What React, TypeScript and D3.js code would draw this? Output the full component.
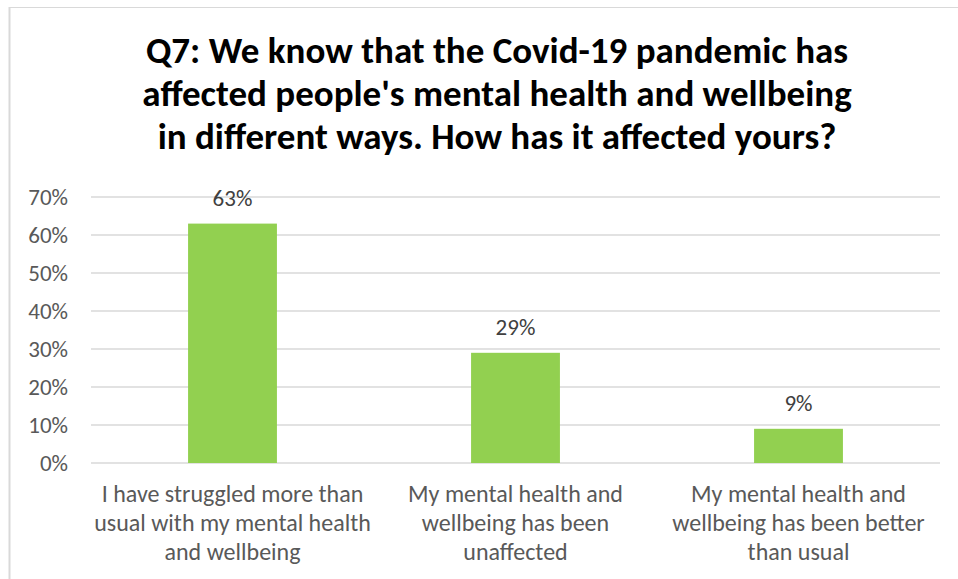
import React from "react";
import * as d3 from "d3";

const categories: string[][] = [
  ["I have struggled more than", "usual with my mental health", "and wellbeing"],
  ["My mental health and", "wellbeing has been", "unaffected"],
  ["My mental health and", "wellbeing has been better", "than usual"],
];
const values: number[] = [0.63, 0.29, 0.09];
const valueLabels: string[] = ["63%", "29%", "9%"];
const yTicks: number[] = [0, 0.1, 0.2, 0.3, 0.4, 0.5, 0.6, 0.7];
const titleLines: string[] = [
  "Q7: We know that the Covid-19 pandemic has",
  "affected people's mental health and wellbeing",
  "in different ways. How has it affected yours?",
];

const W = 958;
const H = 579;
const FONT = "Carlito, Calibri, Lato, 'Open Sans', sans-serif";

export default function App() {
  const left = 91, right = 940, top = 197, bottom = 463;
  const x = d3.scaleBand<number>().domain(values.map((_, i) => i)).range([left, right]).paddingInner(0.686).paddingOuter(0.343);
  const y = d3.scaleLinear().domain([0, 0.7]).range([bottom, top]);
  return (
    <svg width={W} height={H} style={{ position: "absolute", left: 0, top: 0, background: "#fff" }}>
      <line x1={9} x2={W} y1={7.5} y2={7.5} stroke="#d9d9d9" strokeWidth={1} />
      <line x1={9.5} x2={9.5} y1={7} y2={H} stroke="#d9d9d9" strokeWidth={2} />
      {titleLines.map((t, i) => (
        <text key={i} x={497} y={63 + i * 43} textAnchor="middle" fontFamily={FONT} fontWeight="bold" fontSize={37} fill="#000">{t}</text>
      ))}
      {yTicks.map((t) => (
        <g key={t}>
          <line x1={left} x2={right} y1={y(t)} y2={y(t)} stroke="#d9d9d9" strokeWidth={1.3} />
          <text x={68} y={y(t) + 7.5} textAnchor="end" fontFamily={FONT} fontSize={23} fill="#595959">{d3.format(".0%")(t)}</text>
        </g>
      ))}
      {values.map((v, i) => (
        <g key={i}>
          <rect x={x(i)} y={y(v)} width={x.bandwidth()} height={bottom - y(v)} fill="#92D050" />
          <text x={x(i)! + x.bandwidth() / 2} y={y(v) - 18} textAnchor="middle" fontFamily={FONT} fontSize={23} fill="#404040">{valueLabels[i]}</text>
          {categories[i].map((l, j) => (
            <text key={j} x={x(i)! + x.bandwidth() / 2} y={502 + j * 29} textAnchor="middle" fontFamily={FONT} fontSize={24} fill="#595959">{l}</text>
          ))}
        </g>
      ))}
    </svg>
  );
}
